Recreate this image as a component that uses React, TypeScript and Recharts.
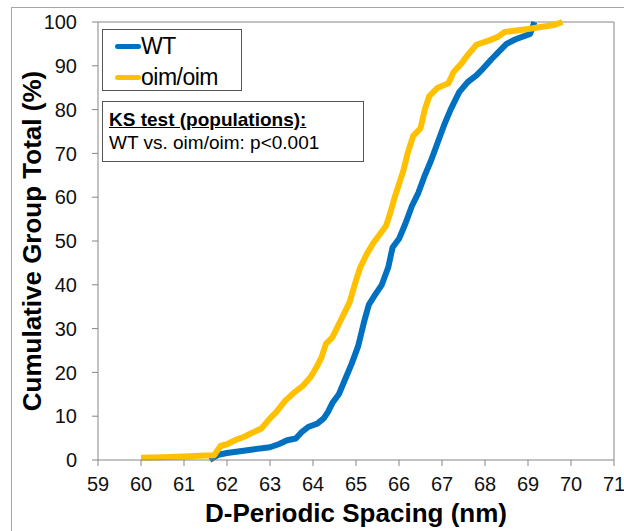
import React from "react";
import { LineChart, Line, XAxis, YAxis, ReferenceLine } from "recharts";

// D-periodic spacing (nm) vs cumulative % for each genotype
const wtSpacing = [
  61.6, 61.8, 62.0, 62.3, 62.6, 63.0, 63.2, 63.4, 63.6, 63.75, 63.9, 64.1,
  64.25, 64.35, 64.45, 64.6, 64.75, 64.9, 65.05, 65.2, 65.3, 65.45, 65.6,
  65.75, 65.85, 66.0, 66.15, 66.3, 66.45, 66.6, 66.75, 66.9, 67.05, 67.2,
  67.4, 67.6, 67.8, 67.95, 68.15, 68.3, 68.5, 68.7, 69.05, 69.15,
];
const wtCumulative = [
  0, 1.2, 1.6, 2.0, 2.4, 2.9, 3.6, 4.5, 4.9, 6.5, 7.6, 8.3, 9.5, 11, 13, 15,
  18.5, 22, 26, 32, 35.5, 37.8, 40, 44, 48.5, 50.5, 54, 58, 61, 65, 68.5, 72.5,
  76.5, 80, 84, 86.3, 87.8, 89.3, 91.5, 93, 95, 96, 97.3, 100,
];

const oimSpacing = [
  60.0, 60.5, 61.0, 61.5, 61.7, 61.85, 62.0, 62.2, 62.4, 62.6, 62.8, 63.0,
  63.15, 63.35, 63.55, 63.75, 63.95, 64.1, 64.2, 64.3, 64.45, 64.6, 64.75,
  64.85, 65.0, 65.1, 65.25, 65.4, 65.55, 65.7, 65.8, 65.9, 66.0, 66.1, 66.2,
  66.33, 66.5, 66.6, 66.7, 66.9, 67.15, 67.27, 67.45, 67.6, 67.8, 68.1, 68.3,
  68.45, 69.0, 69.6, 69.8,
];
const oimCumulative = [
  0.5, 0.6, 0.8, 1.0, 1.1, 3.2, 3.6, 4.6, 5.3, 6.3, 7.2, 9.5, 11, 13.5, 15.3,
  16.8, 19, 21.5, 23.5, 26.5, 28, 31, 34, 36, 41, 44, 47, 49.5, 51.5, 53.5,
  56.5, 60, 63, 66, 70, 74, 75.7, 80, 83, 85, 86, 88.6, 90.5, 92.5, 94.8, 95.8,
  96.6, 97.7, 98.4, 99.3, 100,
];

const xTicks = [59, 60, 61, 62, 63, 64, 65, 66, 67, 68, 69, 70, 71];
const yTicks = [0, 10, 20, 30, 40, 50, 60, 70, 80, 90, 100];

const wtData = wtSpacing.map((x, i) => ({ x, y: wtCumulative[i] }));
const oimData = oimSpacing.map((x, i) => ({ x, y: oimCumulative[i] }));

const BLUE = "#0070C0";
const GOLD = "#FFC000";
const AXIS = "#868686";
const FONT = "Arial, 'Liberation Sans', sans-serif";

const legendItems = [
  { name: "WT", color: BLUE },
  { name: "oim/oim", color: GOLD },
];

function LegendBox() {
  return (
    <div
      style={{
        position: "absolute",
        left: 102,
        top: 29,
        width: 140,
        height: 62,
        border: "1px solid #555",
        background: "#fff",
        boxSizing: "border-box",
        paddingTop: 1,
      }}
    >
      {legendItems.map((it) => (
        <div
          key={it.name}
          style={{
            display: "flex",
            alignItems: "center",
            height: 31,
            fontSize: 23,
            color: "#000",
            letterSpacing: -0.5,
          }}
        >
          <span
            style={{
              display: "inline-block",
              width: 26,
              height: 5,
              background: it.color,
              borderRadius: 3,
              marginLeft: 12,
            }}
          />
          <span>{it.name}</span>
        </div>
      ))}
    </div>
  );
}

export default function App() {
  return (
    <div
      style={{
        position: "absolute",
        left: 0,
        top: 0,
        width: 624,
        height: 531,
        overflow: "hidden",
        background: "#fff",
        fontFamily: FONT,
      }}
    >
      <div
        style={{
          position: "absolute",
          left: 11,
          top: 7,
          width: 700,
          height: 600,
          borderLeft: "1px solid #a6a6a6",
          borderTop: "1px solid #a6a6a6",
        }}
      />
      <LineChart
        width={624}
        height={531}
        margin={{ top: 22, right: 10, bottom: 0, left: 0 }}
        style={{ position: "absolute", left: 0, top: 0 }}
      >
        <XAxis
          dataKey="x"
          type="number"
          domain={[59, 71]}
          ticks={xTicks}
          allowDataOverflow
          height={71}
          stroke={AXIS}
          tickSize={6}
          tickMargin={11}
          tick={{ fill: "#111", fontSize: 20, fontFamily: FONT }}
        />
        <YAxis
          type="number"
          domain={[0, 100]}
          ticks={yTicks}
          width={98}
          stroke={AXIS}
          tickSize={6}
          tickMargin={15}
          tick={{ fill: "#111", fontSize: 20, fontFamily: FONT }}
        />
        <ReferenceLine y={100} stroke={AXIS} />
        <ReferenceLine x={71} stroke={AXIS} />
        <Line
          data={wtData}
          dataKey="y"
          name="WT"
          type="linear"
          stroke={BLUE}
          strokeWidth={6}
          strokeLinejoin="round"
          dot={false}
          isAnimationActive={false}
        />
        <Line
          data={oimData}
          dataKey="y"
          name="oim/oim"
          type="linear"
          stroke={GOLD}
          strokeWidth={6}
          strokeLinejoin="round"
          dot={false}
          isAnimationActive={false}
        />
      </LineChart>

      <LegendBox />

      <div
        style={{
          position: "absolute",
          left: 102,
          top: 101,
          width: 262,
          height: 61,
          border: "1px solid #555",
          boxSizing: "border-box",
          background: "#fff",
          fontSize: 19,
          color: "#000",
          paddingLeft: 6,
          paddingTop: 6,
          lineHeight: "23px",
        }}
      >
        <div style={{ fontWeight: "bold", textDecoration: "underline" }}>
          KS test (populations):
        </div>
        <div>WT vs. oim/oim: p&lt;0.001</div>
      </div>

      <div
        style={{
          position: "absolute",
          left: 156,
          top: 498,
          width: 400,
          textAlign: "center",
          fontWeight: "bold",
          fontSize: 26,
          lineHeight: "30px",
          color: "#000",
        }}
      >
        D-Periodic Spacing (nm)
      </div>
      <div
        style={{
          position: "absolute",
          left: 32 - 200,
          top: 241 - 15,
          width: 400,
          height: 30,
          textAlign: "center",
          fontWeight: "bold",
          fontSize: 26,
          lineHeight: "30px",
          color: "#000",
          transform: "rotate(-90deg)",
        }}
      >
        Cumulative Group Total (%)
      </div>
    </div>
  );
}
